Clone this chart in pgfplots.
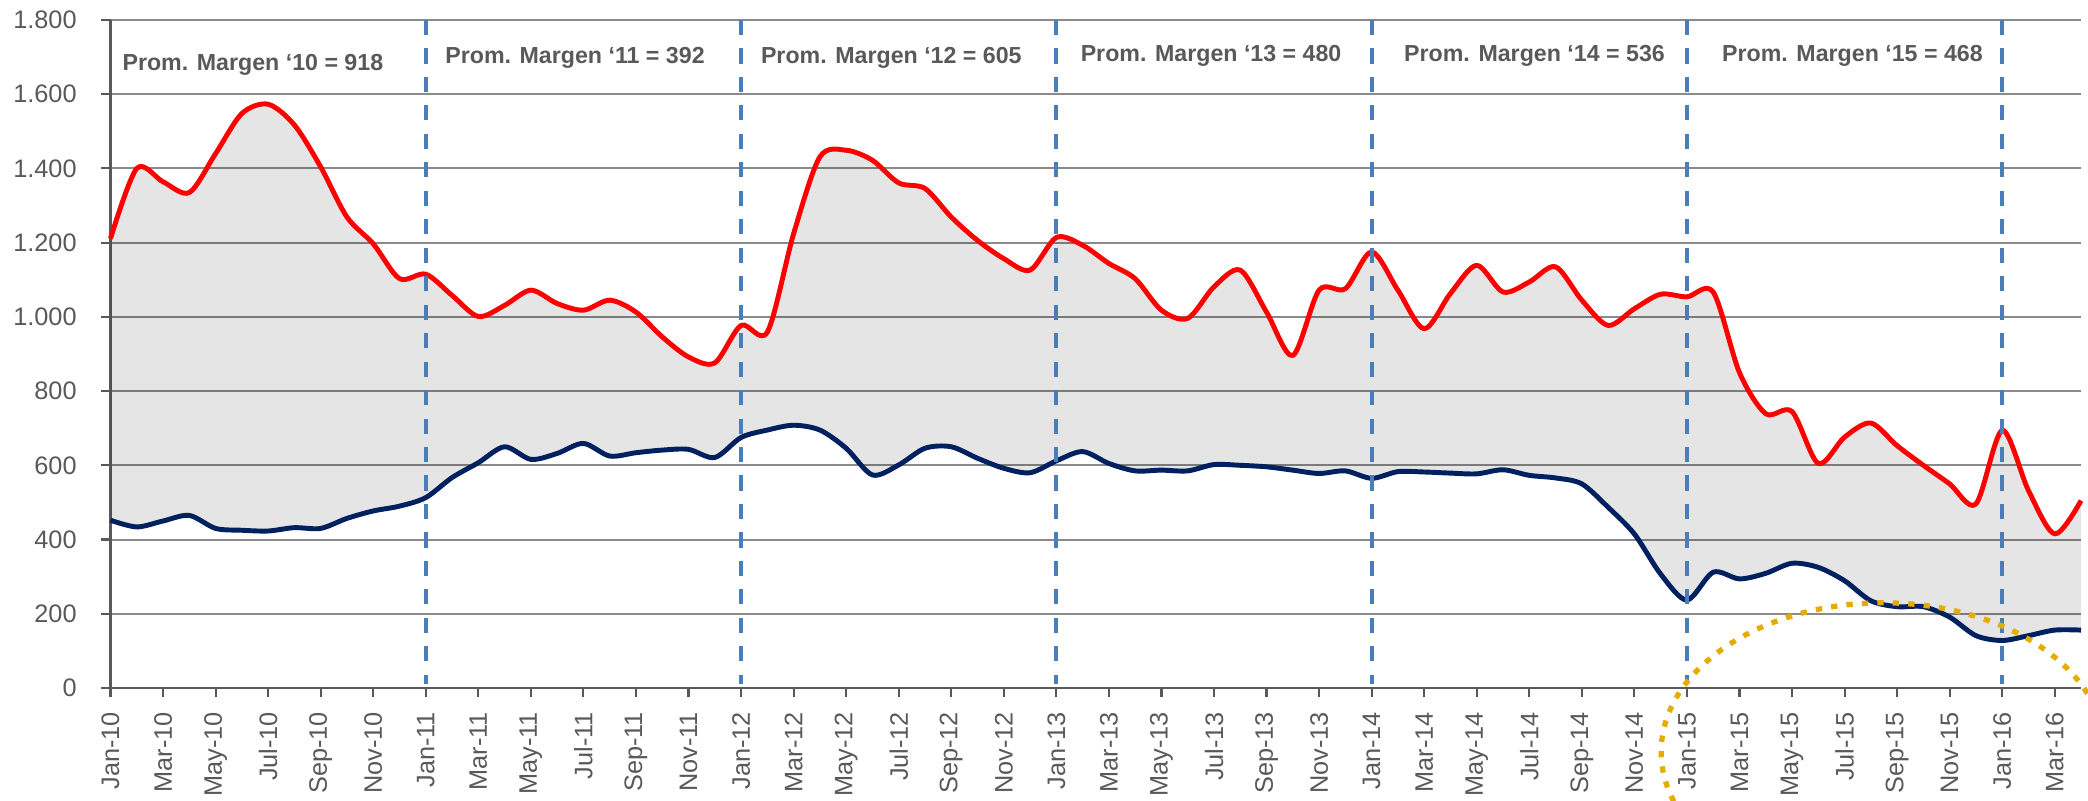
\documentclass[border=0pt]{standalone}
\usepackage{fontspec}
\setmainfont{Liberation Sans}
\usepackage{pgfplots}
\pgfplotsset{compat=1.18}
\usepgfplotslibrary{fillbetween}
\usepackage{pgfplotstable}

\definecolor{txtgray}{RGB}{89,89,89}
\definecolor{gridgray}{RGB}{138,138,138}
\definecolor{navyline}{RGB}{0,32,96}
\definecolor{dashblue}{RGB}{74,126,187}
\definecolor{goldring}{RGB}{229,172,0}

% month index (0 = Jan-10), upper and lower series
\pgfplotstableread{
m hi lo
0 1211 452
1 1400 434
2 1364 450
3 1335 465
4 1440 430
5 1548 425
6 1573 423
7 1517 432
8 1404 430
9 1269 457
10 1197 477
11 1103 490
12 1115 513
13 1058 567
14 1001 607
15 1031 650
16 1072 616
17 1036 632
18 1018 659
19 1045 625
20 1013 634
21 946 641
22 892 643
23 876 621
24 977 675
25 959 695
26 1224 708
27 1431 695
28 1449 646
29 1422 574
30 1361 601
31 1346 646
32 1269 650
33 1206 619
34 1157 592
35 1126 580
36 1214 612
37 1193 637
38 1144 605
39 1103 585
40 1018 587
41 996 585
42 1081 602
43 1126 600
44 1013 596
45 896 587
46 1072 578
47 1076 585
48 1175 565
49 1072 583
50 968 582
51 1063 579
52 1139 577
53 1067 588
54 1094 573
55 1135 566
56 1045 550
57 977 487
58 1022 415
59 1061 307
60 1054 237
61 1067 312
62 850 294
63 739 309
64 745 336
65 605 325
66 676 289
67 714 235
68 653 219
69 600 219
70 550 191
71 496 141
72 694 128
73 532 141
74 415 156
75 505 156
}\datatable

\begin{document}
\begin{tikzpicture}
\begin{axis}[
  scale only axis, width=19.705cm, height=6.68cm,
  xmin=0, xmax=75, ymin=0, ymax=1800,
  axis x line=bottom, axis y line=left,
  axis line style={draw=txtgray, line width=0.65pt, -},
  ytick={0,200,...,1800},
  xtick={0,2,...,74},
  xticklabels={Jan-10,Mar-10,May-10,Jul-10,Sep-10,Nov-10,
    Jan-11,Mar-11,May-11,Jul-11,Sep-11,Nov-11,
    Jan-12,Mar-12,May-12,Jul-12,Sep-12,Nov-12,
    Jan-13,Mar-13,May-13,Jul-13,Sep-13,Nov-13,
    Jan-14,Mar-14,May-14,Jul-14,Sep-14,Nov-14,
    Jan-15,Mar-15,May-15,Jul-15,Sep-15,Nov-15,
    Jan-16,Mar-16},
  ymajorgrids, grid style={gridgray, line width=0.55pt},
  tick align=outside, major tick length=2.7pt,
  tick style={txtgray, line width=0.6pt},
  ticklabel style={font=\fontsize{7.2}{8}\selectfont, text=txtgray},
  xticklabel style={rotate=90, anchor=east},
  xticklabel shift=0.6pt,
  yticklabel shift=3.4pt,
  yticklabel style={/pgf/number format/1000 sep={.}, /pgf/number format/assume math mode=true},
  clip=false,
]
\addplot[draw=none, name path=hi, smooth] table[x=m, y=hi] {\datatable};
\addplot[draw=none, name path=lo, smooth] table[x=m, y=lo] {\datatable};
\addplot[fill=black, fill opacity=0.1, draw=none] fill between[of=hi and lo];

\addplot[red, line width=1.4pt, smooth, line join=round] table[x=m, y=hi] {\datatable};
\addplot[navyline, line width=1.4pt, smooth, line join=round] table[x=m, y=lo] {\datatable};

\foreach \yr in {12,24,36,48,60,72} {
  \edef\tmp{\noexpand\draw[dashblue, line width=1.2pt, dash pattern=on 4.3pt off 3.8pt]
    (axis cs:\yr,1800) -- (axis cs:\yr,12);}
  \tmp
}

\begin{scope}[every node/.style={font=\bfseries\fontsize{6.6}{8}\selectfont, text=txtgray}]
\node at (axis cs:5.42,1679) {Prom. Margen ‘10 = 918};
\node at (axis cs:17.68,1698) {Prom. Margen ‘11 = 392};
\node at (axis cs:29.72,1698) {Prom. Margen ‘12 = 605};
\node at (axis cs:41.89,1702) {Prom. Margen ‘13 = 480};
\node at (axis cs:54.2,1704) {Prom. Margen ‘14 = 536};
\node at (axis cs:66.3,1704) {Prom. Margen ‘15 = 468};
\end{scope}

\coordinate (bl) at (rel axis cs:0,0);
\coordinate (tr) at (rel axis cs:1,1);
\coordinate (ec) at (axis cs:67.47,-172);
\end{axis}
\begin{scope}
\clip ([shift={(-1.105cm,-1.13cm)}]bl) rectangle ([shift={(0.07cm,0.2cm)}]tr);
\draw[goldring, line width=1.5pt, dash pattern=on 1.8pt off 2.6pt]
  (ec) ellipse [x radius=2.22cm, y radius=1.49cm];
\end{scope}
\pgfresetboundingbox
\path[use as bounding box] ([shift={(-1.105cm,-1.13cm)}]bl) rectangle ([shift={(0.07cm,0.2cm)}]tr);
\end{tikzpicture}
\end{document}
